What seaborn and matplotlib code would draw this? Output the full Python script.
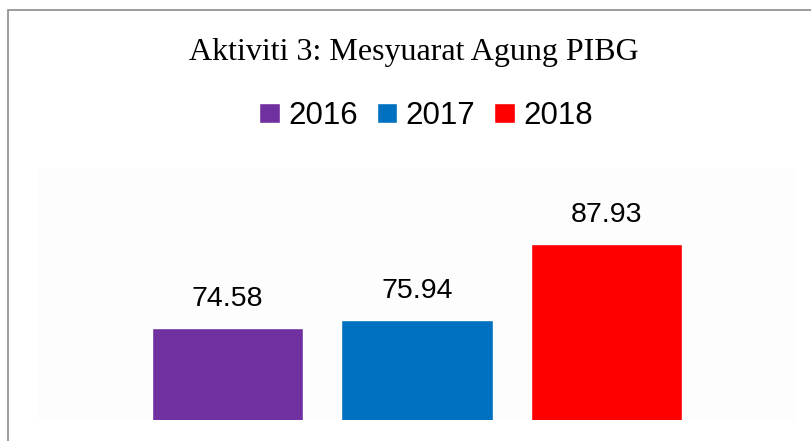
import pandas as pd
import matplotlib
matplotlib.use('Agg')
import matplotlib.pyplot as plt
from matplotlib.patches import Rectangle
import seaborn as sns

# chart data
years = ['2016', '2017', '2018']
scores = [74.58, 75.94, 87.93]
colours = ['#7030A0', '#0070C0', '#FF0000']
title = 'Aktiviti 3: Mesyuarat Agung PIBG'

df = pd.DataFrame({'Tahun': years, 'Skor': scores})

sns.set_style('white')
plt.rcParams['font.family'] = ['Liberation Sans', 'DejaVu Sans']
plt.rcParams['text.color'] = 'black'

fig = plt.figure(figsize=(8.12, 4.41), dpi=100)
ax = fig.add_axes([38 / 812, 21 / 441, 758 / 812, 252 / 441])
ax.set_facecolor('#fdfdfd')

sns.barplot(data=df, x='Tahun', y='Skor', hue='Tahun', palette=colours,
            width=0.8, saturation=1, dodge=False, legend=True, ax=ax)

ax.set_xlim(-1, 3)
ax.set_ylim(60, 100)
ax.set_xticks([])
ax.set_yticks([])
ax.set_xlabel('')
ax.set_ylabel('')
for s in ax.spines.values():
    s.set_visible(False)

# value labels above bars
for i, v in enumerate(scores):
    ax.annotate(f'{v:.2f}', xy=(i, v), xytext=(0, 29), textcoords='offset pixels',
                ha='center', va='center', fontsize=20.5, color='black')

# legend at top
handles, labels = ax.get_legend_handles_labels()
if ax.get_legend() is not None:
    ax.get_legend().remove()
fig.legend(handles, labels, loc='center', bbox_to_anchor=(426 / 812, 1 - 116 / 441),
           ncol=3, frameon=False, fontsize=22.5, handlelength=0.65, handleheight=0.65,
           handletextpad=0.26, columnspacing=0.62, borderaxespad=0, borderpad=0)

fig.text(414 / 812, 1 - 60 / 441, title, ha='center', va='baseline', color='black',
         fontsize=23, family=['Liberation Serif', 'DejaVu Serif'])

# chart border
fig.patches.append(Rectangle((8.5 / 812, -0.1), 1.0, 1.1 - 10 / 441, transform=fig.transFigure,
                             fill=False, edgecolor='#8c8c8c', linewidth=1.2))

fig.savefig('out.png', dpi=100)
